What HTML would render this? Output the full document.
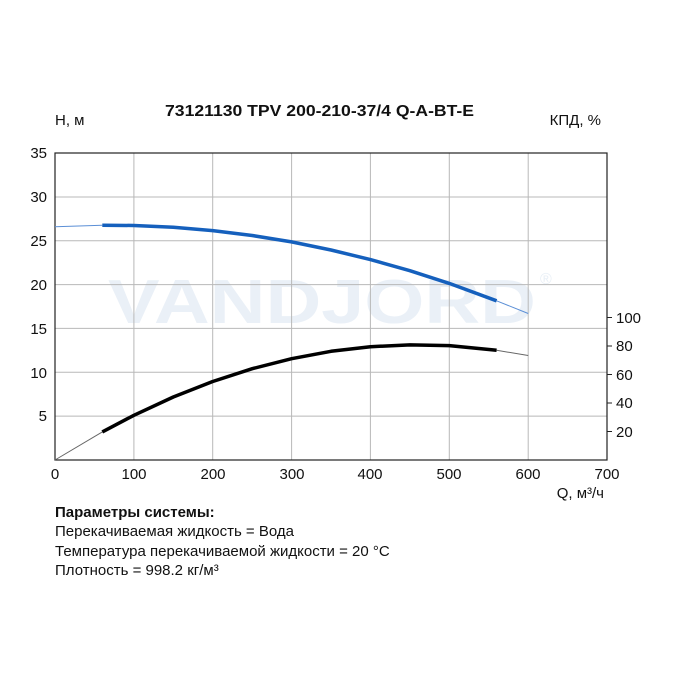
<!DOCTYPE html>
<html><head><meta charset="utf-8"><style>
body{margin:0;background:#fff;width:681px;height:681px;overflow:hidden}
svg text{font-family:"Liberation Sans",sans-serif;fill:#111}
</style></head><body>
<svg width="681" height="681" xmlns="http://www.w3.org/2000/svg">
<text x="108" y="323" font-size="62" font-weight="bold" style="fill:#eaf0f7" textLength="428" lengthAdjust="spacingAndGlyphs">VANDJORD</text>
<text x="540" y="284" font-size="16" style="fill:#e8eff6">®</text>
<g stroke="#b8b8b8" stroke-width="1">
<line x1="133.9" y1="153" x2="133.9" y2="460"/><line x1="212.7" y1="153" x2="212.7" y2="460"/>
<line x1="291.6" y1="153" x2="291.6" y2="460"/><line x1="370.4" y1="153" x2="370.4" y2="460"/>
<line x1="449.3" y1="153" x2="449.3" y2="460"/><line x1="528.2" y1="153" x2="528.2" y2="460"/>
<line x1="55" y1="416.1" x2="607" y2="416.1"/><line x1="55" y1="372.3" x2="607" y2="372.3"/>
<line x1="55" y1="328.4" x2="607" y2="328.4"/><line x1="55" y1="284.6" x2="607" y2="284.6"/>
<line x1="55" y1="240.8" x2="607" y2="240.8"/><line x1="55" y1="197" x2="607" y2="197"/>
</g>
<rect x="55" y="153" width="552" height="307" fill="none" stroke="#222" stroke-width="1.2"/>
<g stroke="#222" stroke-width="1">
<line x1="607" y1="431.5" x2="612" y2="431.5"/><line x1="607" y1="403" x2="612" y2="403"/>
<line x1="607" y1="374.5" x2="612" y2="374.5"/><line x1="607" y1="346" x2="612" y2="346"/>
<line x1="607" y1="317.5" x2="612" y2="317.5"/>
</g>
<polyline fill="none" stroke="#5b8fd6" stroke-width="1" points="55,226.7 102.3,225.2"/>
<polyline fill="none" stroke="#1560bd" stroke-width="3.5" stroke-linejoin="round" points="102.3,225.2 133.9,225.5 173.3,227.3 212.7,230.6 252.2,235.5 291.6,241.9 331,250 370.4,259.6 409.9,270.7 449.3,283.4 496.6,300.8"/>
<polyline fill="none" stroke="#5b8fd6" stroke-width="1" points="496.6,300.8 528.2,313.5"/>
<polyline fill="none" stroke="#666" stroke-width="1" points="55,460 102.3,431.9"/>
<polyline fill="none" stroke="#000" stroke-width="3.5" stroke-linejoin="round" points="102.3,431.9 133.9,415.3 173.3,397 212.7,381.5 252.2,368.7 291.6,358.7 331,351.3 370.4,346.7 409.9,344.9 449.3,345.6 496.6,350.3"/>
<polyline fill="none" stroke="#666" stroke-width="1" points="496.6,350.3 528.2,355.5"/>
<g font-size="15" text-anchor="end">
<text x="47" y="158">35</text><text x="47" y="202">30</text><text x="47" y="246">25</text>
<text x="47" y="290">20</text><text x="47" y="334">15</text><text x="47" y="378">10</text><text x="47" y="421">5</text>
</g>
<g font-size="15" text-anchor="start">
<text x="616" y="437">20</text><text x="616" y="408">40</text><text x="616" y="380">60</text>
<text x="616" y="351">80</text><text x="616" y="323">100</text>
</g>
<g font-size="15" text-anchor="middle">
<text x="55" y="479">0</text><text x="134" y="479">100</text><text x="213" y="479">200</text>
<text x="292" y="479">300</text><text x="370" y="479">400</text><text x="449" y="479">500</text>
<text x="528" y="479">600</text><text x="607" y="479">700</text>
</g>
<text x="55" y="125" font-size="15">H, м</text>
<text x="601" y="125" font-size="15" text-anchor="end">КПД, %</text>
<text x="165" y="116" font-size="15.5" font-weight="bold" textLength="309" lengthAdjust="spacingAndGlyphs">73121130 TPV 200-210-37/4 Q-A-BT-E</text>
<text x="604" y="498" font-size="15" text-anchor="end">Q, м³/ч</text>
<text x="55" y="517" font-size="15" font-weight="bold">Параметры системы:</text>
<text x="55" y="536" font-size="15">Перекачиваемая жидкость = Вода</text>
<text x="55" y="556" font-size="15">Температура перекачиваемой жидкости = 20 °C</text>
<text x="55" y="575" font-size="15">Плотность = 998.2 кг/м³</text>
</svg>
</body></html>
